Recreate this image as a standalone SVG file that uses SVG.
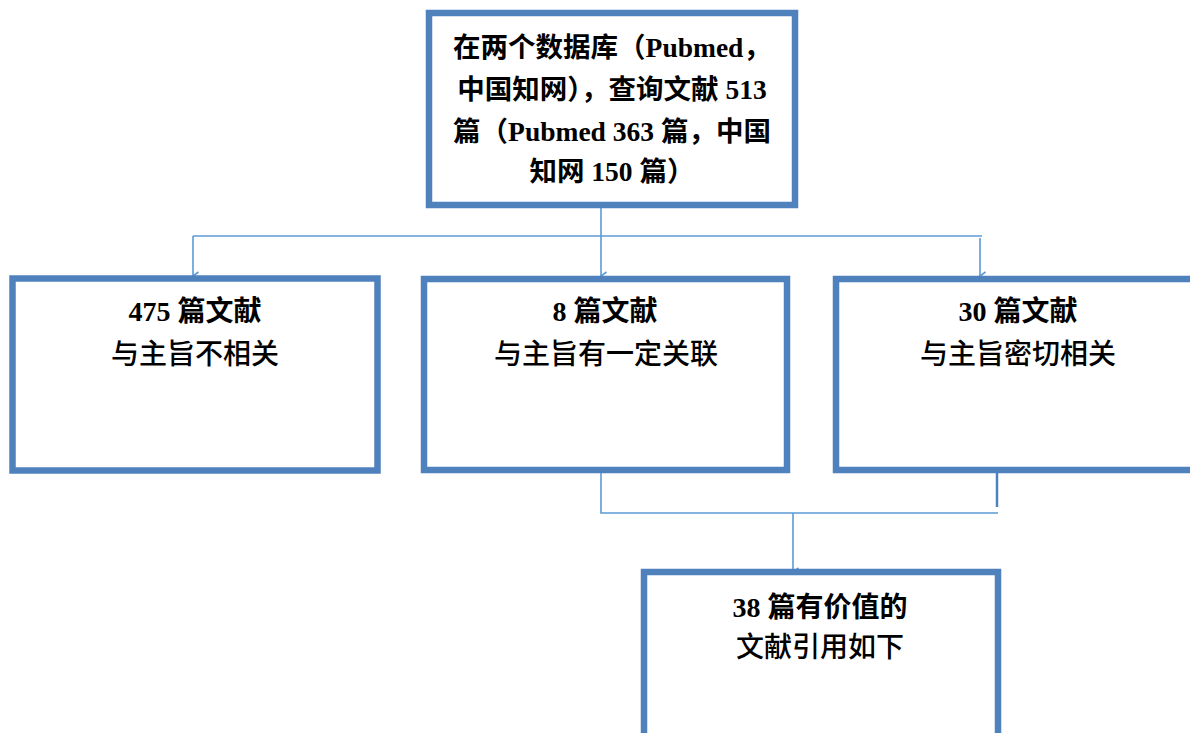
<svg xmlns="http://www.w3.org/2000/svg" width="1190" height="733" viewBox="0 0 1190 733">
<defs>
<style>
.box{fill:#fff;stroke:#4F81BD;stroke-width:6.5}
.con{fill:none;stroke:#5B9BD5;stroke-width:1.6}
.t{font-family:"Liberation Serif","Noto Sans CJK SC",serif;font-size:28px;fill:#000;text-anchor:middle}
.top{font-size:27.5px}
.b{font-weight:bold}
.m{font-weight:500}
</style>
<marker id="arr" markerWidth="12" markerHeight="12" refX="6" refY="9" orient="auto" markerUnits="userSpaceOnUse" viewBox="0 0 12 12">
<polyline points="2,3.5 6,9 10,3.5" fill="none" stroke="#5B9BD5" stroke-width="1.6"/>
</marker>
</defs>
<rect width="1190" height="733" fill="#fff"/>
<g id="connectors">
<line class="con" x1="601" y1="208" x2="601" y2="276" marker-end="url(#arr)"/>
<polyline class="con" points="193,236 982,236"/>
<line class="con" x1="193" y1="236" x2="193" y2="276" marker-end="url(#arr)"/>
<line class="con" x1="980" y1="238" x2="980" y2="276" marker-end="url(#arr)"/>
<polyline class="con" points="601,472 601,513 998,513"/>
<line x1="997" y1="464" x2="997" y2="507" stroke="#4F81BD" stroke-width="2.5"/>
<line class="con" x1="793" y1="513" x2="793" y2="572" marker-end="url(#arr)"/>
</g>
<g id="n-top">
<rect class="box" x="429" y="13" width="366" height="192"/>
<text class="t top b" x="612" y="57">在两个数据库（Pubmed，</text>
<text class="t top b" x="612" y="99">中国知网），查询文献 513</text>
<text class="t top b" x="612" y="141">篇（Pubmed 363 篇，中国</text>
<text class="t top b" x="612" y="181">知网 150 篇）</text>
</g>
<g id="n-left">
<rect class="box" x="12.5" y="278.5" width="365" height="192"/>
<text class="t b" x="195" y="321">475 篇文献</text>
<text class="t m" x="195" y="364">与主旨不相关</text>
</g>
<g id="n-mid">
<rect class="box" x="424" y="279" width="363" height="191"/>
<text class="t b" x="605" y="321">8 篇文献</text>
<text class="t m" x="606" y="364">与主旨有一定关联</text>
</g>
<g id="n-right">
<rect class="box" x="836" y="279" width="370" height="191"/>
<text class="t b" x="1018" y="321">30 篇文献</text>
<text class="t m" x="1018" y="364">与主旨密切相关</text>
</g>
<g id="n-bottom">
<rect class="box" x="644" y="572" width="354" height="180"/>
<text class="t b" x="820" y="617">38 篇有价值的</text>
<text class="t m" x="820" y="657">文献引用如下</text>
</g>
</svg>
